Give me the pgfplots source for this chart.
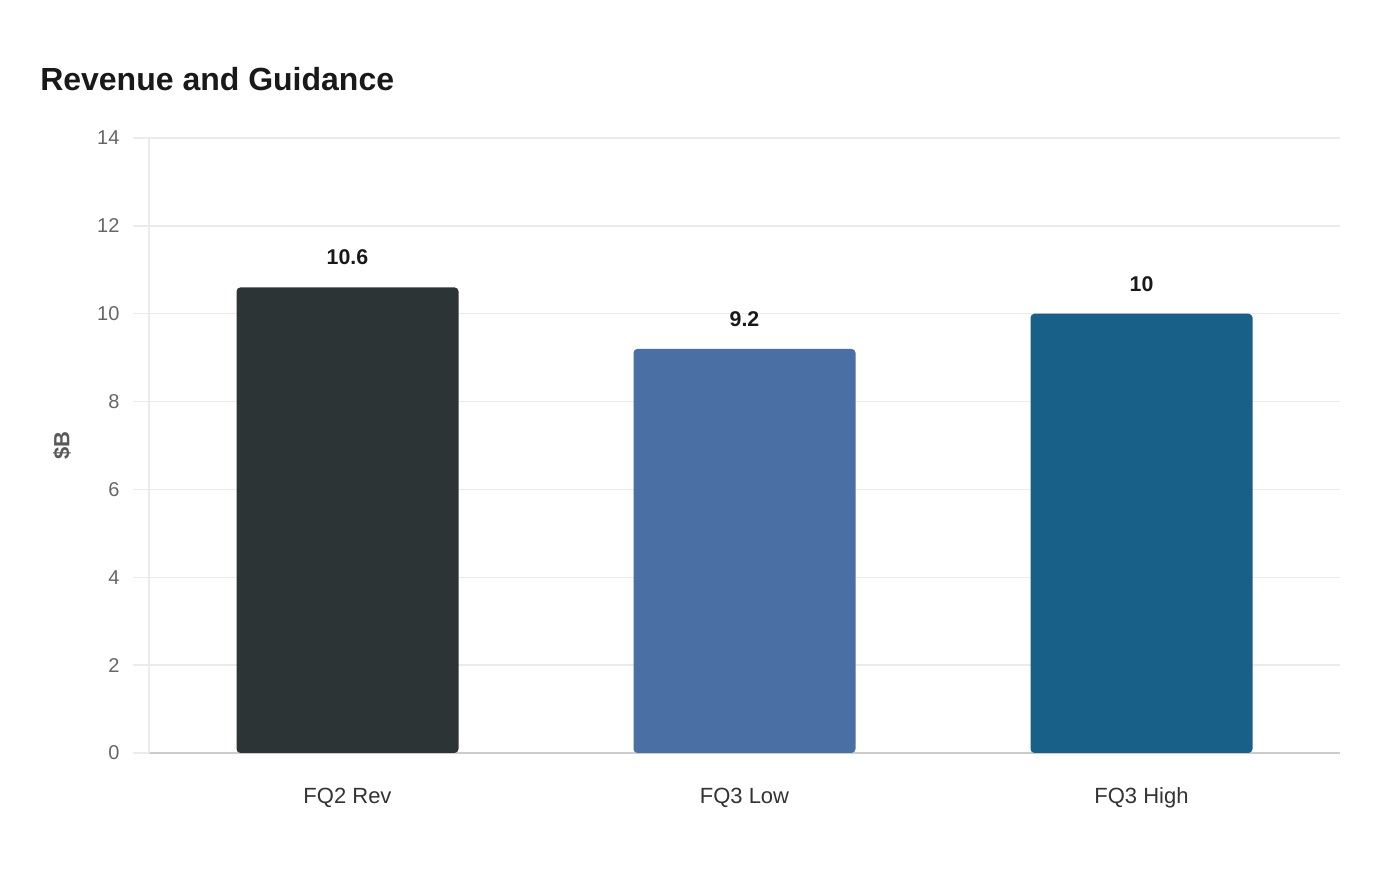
\documentclass[border=0pt]{standalone}
\usepackage{pgfplots}
\pgfplotsset{compat=1.18}
\usepackage{fontspec}
\setmainfont{Liberation Sans}
\definecolor{barA}{HTML}{2D3436}
\definecolor{barB}{HTML}{4A6FA5}
\definecolor{barC}{HTML}{196088}
\definecolor{gridc}{HTML}{EBEBEB}
\definecolor{tickc}{HTML}{666666}
\begin{document}
\begin{tikzpicture}
\path[use as bounding box] (0,0) rectangle (1050pt,660pt);
\node[anchor=base west, inner sep=0pt, text=black!90] at (30pt,591.75pt)
  {\fontsize{24}{29}\selectfont\bfseries Revenue and Guidance};
\begin{axis}[
    at={(111.75pt,95.25pt)}, anchor=south west,
    scale only axis, width=893.25pt, height=461.25pt,
    xmin=-0.5, xmax=2.5, ymin=0, ymax=14,
    ytick={0,2,4,6,8,10,12,14},
    xtick={0,1,2},
    xticklabels={FQ2 Rev, FQ3 Low, FQ3 High},
    /pgf/number format/assume math mode=true,
    ymajorgrids=true,
    grid style={gridc, line width=1pt},
    axis x line*=bottom, axis y line*=left,
    x axis line style={draw=black!20, line width=1.2pt, -},
    y axis line style={draw=gridc, line width=1.2pt, -},
    ytick style={draw=gridc, line width=1pt},
    xtick style={draw=none},
    tick align=outside,
    major tick length=12pt,
    yticklabel style={font=\fontsize{15}{18}\selectfont, text=tickc, inner sep=0pt, xshift=-10pt},
    xticklabel style={font=\fontsize{16.5}{20}\selectfont, text=black!80, inner sep=0pt,
      text height=12pt, text depth=3pt, yshift=-13.5pt},
    every axis y label/.style={at={(rel axis cs:0,0.5)}, xshift=-65.25pt, rotate=90, anchor=center,
      font=\fontsize{16.5}{20}\selectfont\bfseries, text=black!65},
    ylabel={\$B},
    ybar, bar width=166.5pt, bar shift=0pt,
    nodes near coords,
    every node near coord/.append style={font=\fontsize{16}{19}\selectfont\bfseries, text=black!90,
      anchor=south, inner sep=0pt, yshift=16.5pt},
]
\addplot[fill=barA, draw=none, rounded corners=3pt] coordinates {(0,10.6)};
\addplot[fill=barB, draw=none, rounded corners=3pt] coordinates {(1,9.2)};
\addplot[fill=barC, draw=none, rounded corners=3pt] coordinates {(2,10)};
\end{axis}
\end{tikzpicture}
\end{document}
